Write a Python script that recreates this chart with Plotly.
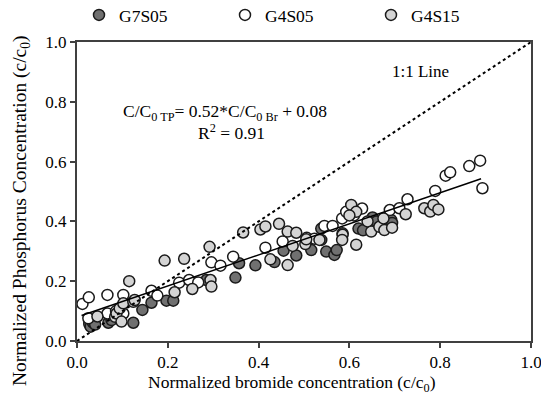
import plotly.graph_objects as go

# G7S05 (dark gray)
g7s05_x = [0.027, 0.030, 0.035, 0.040, 0.069, 0.076, 0.124, 0.144, 0.164, 0.197, 0.212, 0.285,
           0.349, 0.357, 0.393, 0.435, 0.455, 0.483, 0.516, 0.538, 0.538, 0.549, 0.567, 0.572,
           0.585, 0.620, 0.651, 0.660, 0.692, 0.694, 0.630]
g7s05_y = [0.057, 0.048, 0.062, 0.055, 0.061, 0.070, 0.061, 0.104, 0.128, 0.135, 0.135, 0.204,
           0.212, 0.260, 0.253, 0.264, 0.302, 0.286, 0.304, 0.376, 0.338, 0.299, 0.288, 0.304,
           0.360, 0.376, 0.413, 0.400, 0.405, 0.395, 0.370]

# G4S05 (white)
g4s05_x = [0.012, 0.026, 0.025, 0.067, 0.067, 0.102, 0.102, 0.164, 0.177, 0.225, 0.247, 0.267,
           0.296, 0.316, 0.344, 0.415, 0.453, 0.506, 0.523, 0.545, 0.563, 0.584, 0.593, 0.628,
           0.689, 0.710, 0.728, 0.789, 0.812, 0.822, 0.864, 0.888, 0.893, 0.086, 0.610]
g4s05_y = [0.124, 0.146, 0.076, 0.154, 0.092, 0.154, 0.092, 0.168, 0.152, 0.195, 0.204, 0.196,
           0.263, 0.252, 0.282, 0.312, 0.333, 0.345, 0.342, 0.385, 0.385, 0.410, 0.432, 0.443,
           0.438, 0.444, 0.474, 0.502, 0.553, 0.564, 0.585, 0.603, 0.511, 0.100, 0.420]

# G4S15 (light gray)
g4s15_x = [0.045, 0.084, 0.087, 0.094, 0.098, 0.102, 0.115, 0.124, 0.127, 0.193, 0.215, 0.236,
           0.254, 0.292, 0.294, 0.296, 0.366, 0.404, 0.415, 0.426, 0.445, 0.464, 0.464, 0.475,
           0.483, 0.503, 0.505, 0.534, 0.585, 0.584, 0.604, 0.615, 0.615, 0.648, 0.666, 0.675,
           0.677, 0.694, 0.724, 0.765, 0.778, 0.785, 0.796, 0.640, 0.600]
g4s15_y = [0.082, 0.081, 0.092, 0.109, 0.065, 0.126, 0.200, 0.131, 0.137, 0.269, 0.163, 0.275,
           0.174, 0.315, 0.204, 0.182, 0.363, 0.373, 0.383, 0.273, 0.392, 0.254, 0.366, 0.318,
           0.362, 0.324, 0.340, 0.338, 0.355, 0.338, 0.455, 0.432, 0.322, 0.366, 0.382, 0.410,
           0.371, 0.379, 0.424, 0.444, 0.433, 0.455, 0.440, 0.400, 0.420]

fit_slope = 0.52
fit_intercept = 0.08
fit_range = [0.01, 0.89]
one_to_one = [0.0, 1.0]

FONT = "Liberation Serif"

fig = go.Figure()

def add_series(xs, ys, name, color):
    fig.add_trace(go.Scatter(
        x=xs, y=ys, mode="markers", name=name,
        marker=dict(size=11, color=color, line=dict(color="#1a1a1a", width=1.5)),
    ))

add_series(g7s05_x, g7s05_y, "G7S05", "#707070")
add_series(g4s05_x, g4s05_y, "G4S05", "#ffffff")
add_series(g4s15_x, g4s15_y, "G4S15", "#d4d4d4")

fig.add_trace(go.Scatter(
    x=one_to_one, y=one_to_one, mode="lines", showlegend=False,
    line=dict(color="black", width=2, dash="dot"),
))
fig.add_trace(go.Scatter(
    x=fit_range, y=[fit_slope * v + fit_intercept for v in fit_range],
    mode="lines", showlegend=False, line=dict(color="black", width=1.5),
))

fig.add_annotation(x=0.69, y=0.90, xref="x", yref="y", showarrow=False,
                   text="1:1 Line", font=dict(family=FONT, size=17, color="black"),
                   xanchor="left")
fig.add_annotation(x=0.327, y=0.765, xref="x", yref="y", showarrow=False,
                   text="C/C<sub>0 TP</sub>= 0.52*C/C<sub>0 Br</sub> + 0.08",
                   font=dict(family=FONT, size=17.5, color="black"))
fig.add_annotation(x=0.34, y=0.70, xref="x", yref="y", showarrow=False,
                   text="R<sup>2</sup> = 0.91",
                   font=dict(family=FONT, size=17.5, color="black"))

# axis titles placed as annotations (offset as in the reference)
fig.add_annotation(x=(292 - 77) / 455, y=-(384 - 341) / 299, xref="paper", yref="paper",
                   showarrow=False, xanchor="center", yanchor="middle", borderpad=0,
                   text="Normalized bromide concentration (c/c<sub>0</sub>)",
                   font=dict(family=FONT, size=17.5, color="black"))
fig.add_annotation(x=-(77 - 21) / 455, y=(341 - 211) / 299, xref="paper", yref="paper",
                   showarrow=False, xanchor="center", yanchor="middle", textangle=-90,
                   borderpad=0,
                   text="Normalized Phosphorus Concentration (c/c<sub>0</sub>)",
                   font=dict(family=FONT, size=19.5, color="black"))

axis_common = dict(
    showgrid=False, zeroline=False, showline=True, linecolor="#404040", linewidth=2,
    mirror=True, ticks="outside", ticklen=5, tickwidth=1.5, tickcolor="#404040",
    tickfont=dict(family=FONT, size=17, color="black"),
    tickformat=".1f", dtick=0.2, range=[0, 1.0], automargin=False,
    ticklabeloverflow="allow",
)

fig.update_layout(
    width=541, height=397,
    margin=dict(l=77, r=10, t=42, b=56),
    plot_bgcolor="white", paper_bgcolor="white",
    font=dict(family=FONT, color="black"),
    xaxis=dict(**axis_common),
    yaxis=dict(**axis_common),
    legend=dict(orientation="h", xref="container", yref="container",
                x=79 / 541, xanchor="left", y=1 - 15 / 397, yanchor="middle",
                entrywidth=101, entrywidthmode="pixels",
                font=dict(family=FONT, size=17.5, color="black"),
                bgcolor="rgba(0,0,0,0)"),
)

fig.write_html("out.html")
